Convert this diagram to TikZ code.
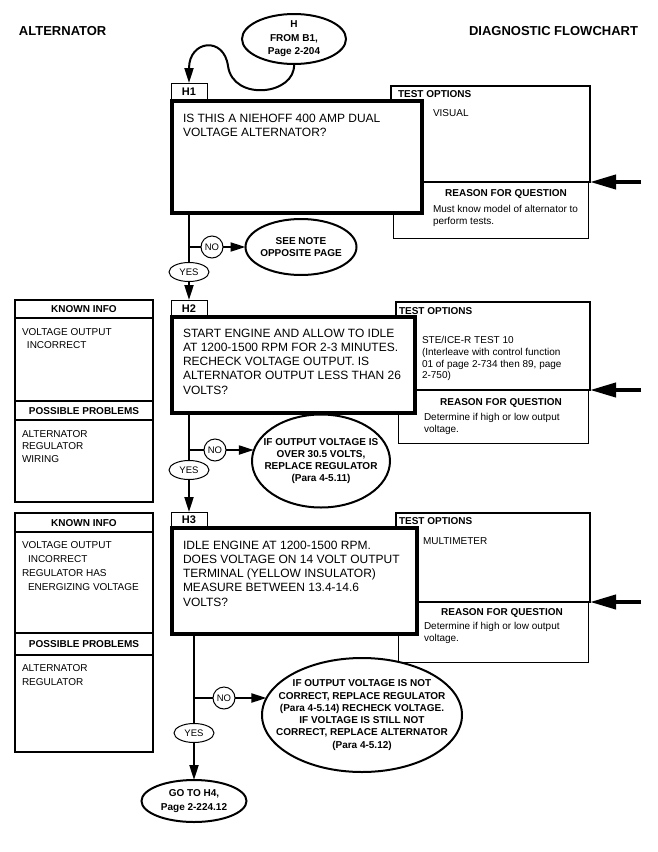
\documentclass[tikz,border=0pt]{standalone}
\usepackage{fontspec}
\setmainfont{Liberation Sans}
\usetikzlibrary{shapes.geometric,arrows.meta}
\newcommand\fsBody{\fontsize{12}{14.3}\selectfont}
\newcommand\fsSmall{\fontsize{10}{13.5}\selectfont}
\newcommand\fsTO{\fontsize{10}{11.7}\selectfont}
\newcommand\fsLab{\fontsize{10}{12}\bfseries}
\newcommand\fsOval{\fontsize{10}{12.3}\bfseries}
\newcommand\fsHead{\fontsize{13}{15}\bfseries}
\newcommand\fsTab{\fontsize{11}{13}\bfseries}
\newcommand\fsYN{\fontsize{9.5}{11}\selectfont}
\begin{document}
\begin{tikzpicture}[x=1pt,y=-1pt,
 every node/.style={inner sep=0pt,outer sep=0pt},
 bx/.style={draw,rectangle,anchor=north west},
 qb/.style={bx,line width=4pt,fill=white},
 tob/.style={bx,line width=2pt},
 rb/.style={bx,line width=1pt},
 kib/.style={bx,line width=1.2pt},
 tabb/.style={bx,line width=1pt,fill=white,font=\fsTab},
 ov/.style={ellipse,draw,line width=2pt,fill=white},
 ovt/.style={align=center,font=\fsOval},
 yesn/.style={ellipse,draw,line width=1pt,fill=white,minimum width=40pt,minimum height=19pt,font=\fsYN},
 non/.style={circle,draw,line width=1pt,fill=white,minimum size=22pt,font=\fsYN},
 tl/.style={anchor=north west,align=left},
 lab/.style={font=\fsLab},
 conn/.style={line width=2pt},
 arr/.style={line width=2pt,-{Triangle[length=15pt,width=9pt]}},
 bigarr/.style={line width=4pt,-{Triangle[length=26pt,width=14pt]}},
 kiline/.style={line width=1.4pt}
]
\useasboundingbox (0,0) rectangle (657,852);

% headers
\node[anchor=base west,font=\fsHead] (hl) at (19,35.6) {ALTERNATOR};
\node[anchor=base east,font=\fsHead] (hr) at (638,35.6) {DIAGNOSTIC FLOWCHART};

% ---------------- H1 ----------------
\node[rb,minimum width=195pt,minimum height=56pt] (r1) at (393,182) {};
\node[tob,minimum width=199pt,minimum height=96pt] (to1) at (391,86) {};
\node[tabb,minimum width=36pt,minimum height=18pt] (t1) at (171,83) {H1};
\node[qb,minimum width=250pt,minimum height=112pt] (q1) at (172,101) {};
\node[tl,font=\fsBody] (q1t) at (183,113.7) {IS THIS A NIEHOFF 400 AMP DUAL\\VOLTAGE ALTERNATOR?};
\node[anchor=base west,lab] (to1l) at (398,97.6) {TEST OPTIONS};
\node[tl,font=\fsTO] (to1c) at (433,109.4) {VISUAL};
\node[anchor=base,lab] (r1l) at (506,196.6) {REASON FOR QUESTION};
\node[tl,font=\fontsize{10}{11.5}\selectfont] (r1c) at (433,205.4) {Must know model of alternator to\\perform tests.};
\coordinate (ra1) at (641,182);
\draw[bigarr] (ra1) -- (to1.south east);

% ---------------- H2 ----------------
\node[kib,minimum width=138pt,minimum height=202pt] (ki2) at (15,300) {};
\draw[kiline] (15,318) -- (153,318);
\draw[kiline] (15,401) -- (153,401);
\draw[kiline] (15,420) -- (153,420);
\node[anchor=base,lab] (ki2h) at (84,312.6) {KNOWN INFO};
\node[anchor=base,lab] (ki2p) at (84,414.1) {POSSIBLE PROBLEMS};
\node[tl,font=\fontsize{10}{13}\selectfont] (ki2a) at (22,328.4) {VOLTAGE OUTPUT\\\hspace*{5pt}INCORRECT};
\node[tl,font=\fontsize{10}{12.5}\selectfont] (ki2b) at (22,430.4) {ALTERNATOR\\REGULATOR\\WIRING};

\node[rb,minimum width=190pt,minimum height=53pt] (r2) at (398,390) {};
\node[tob,minimum width=194pt,minimum height=88pt] (to2) at (396,302) {};
\node[tabb,minimum width=36pt,minimum height=17pt] (t2) at (171,300) {H2};
\node[qb,minimum width=243pt,minimum height=96pt] (q2) at (172,317) {};
\node[tl,font=\fsBody] (q2t) at (183,328.7) {START ENGINE AND ALLOW TO IDLE\\AT 1200-1500 RPM FOR 2-3 MINUTES.\\RECHECK VOLTAGE OUTPUT. IS\\ALTERNATOR OUTPUT LESS THAN 26\\VOLTS?};
\node[anchor=base west,lab] (to2l) at (399,314.6) {TEST OPTIONS};
\node[tl,font=\fsTO] (to2c) at (422,336.4) {STE/ICE-R TEST 10\\(Interleave with control function\\01 of page 2-734 then 89, page\\2-750)};
\node[anchor=base,lab] (r2l) at (501,405.6) {REASON FOR QUESTION};
\node[tl,font=\fontsize{10}{11.5}\selectfont] (r2c) at (424,413.4) {Determine if high or low output\\voltage.};
\coordinate (ra2) at (641,390);
\draw[bigarr] (ra2) -- (to2.south east);

% ---------------- H3 ----------------
\node[kib,minimum width=138pt,minimum height=239pt] (ki3) at (15,513) {};
\draw[kiline] (15,532) -- (153,532);
\draw[kiline] (15,633) -- (153,633);
\draw[kiline] (15,655) -- (153,655);
\node[anchor=base,lab] (ki3h) at (84,526.1) {KNOWN INFO};
\node[anchor=base,lab] (ki3p) at (84,647.6) {POSSIBLE PROBLEMS};
\node[tl,font=\fontsize{10}{14}\selectfont] (ki3a) at (22,541.4) {VOLTAGE OUTPUT\\\hspace*{6pt}INCORRECT\\REGULATOR HAS\\\hspace*{6pt}ENERGIZING VOLTAGE};
\node[tl,font=\fontsize{10}{14}\selectfont] (ki3b) at (22,664.4) {ALTERNATOR\\REGULATOR};

\node[rb,minimum width=190pt,minimum height=60pt] (r3) at (398,602) {};
\node[tob,minimum width=194pt,minimum height=89pt] (to3) at (396,513) {};
\node[tabb,minimum width=36pt,minimum height=16pt] (t3) at (171,512) {H3};
\node[qb,minimum width=245pt,minimum height=106pt] (q3) at (172,528) {};
\node[tl,font=\fsBody] (q3t) at (183,540.7) {IDLE ENGINE AT 1200-1500 RPM.\\DOES VOLTAGE ON 14 VOLT OUTPUT\\TERMINAL (YELLOW INSULATOR)\\MEASURE BETWEEN 13.4-14.6\\VOLTS?};
\node[anchor=base west,lab] (to3l) at (399,524.6) {TEST OPTIONS};
\node[tl,font=\fsTO] (to3c) at (423,537.4) {MULTIMETER};
\node[anchor=base,lab] (r3l) at (502,615.6) {REASON FOR QUESTION};
\node[tl,font=\fontsize{10}{11.5}\selectfont] (r3c) at (424,622.4) {Determine if high or low output\\voltage.};
\coordinate (ra3) at (641,602);
\draw[bigarr] (ra3) -- (to3.south east);

% ---------------- ovals ----------------
\node[ov,minimum width=104pt,minimum height=50pt] (hov) at (294,39) {};
\node[ovt,font=\fontsize{10}{13.5}\bfseries] (hovt) at (hov) {H\\FROM B1,\\Page 2-204};
\node[ov,minimum width=111pt,minimum height=56pt] (see) at (301,247) {};
\node[ovt] (seet) at (see) {SEE NOTE\\OPPOSITE PAGE};
\node[ov,minimum width=138pt,minimum height=93pt] (e2) at (321,461) {};
\node[ovt] (e2t) at (e2) {IF OUTPUT VOLTAGE IS\\OVER 30.5 VOLTS,\\REPLACE REGULATOR\\(Para 4-5.11)};
\node[ov,minimum width=200pt,minimum height=114pt] (e3) at (362,715) {};
\node[ovt] (e3t) at (e3) {IF OUTPUT VOLTAGE IS NOT\\CORRECT, REPLACE REGULATOR\\(Para 4-5.14) RECHECK VOLTAGE.\\IF VOLTAGE IS STILL NOT\\CORRECT, REPLACE ALTERNATOR\\(Para 4-5.12)};
\node[ov,minimum width=105pt,minimum height=42pt] (go) at (194,801) {};
\node[ovt,font=\fontsize{10}{14}\bfseries] (got) at (go) {GO TO H4,\\Page 2-224.12};

% ---------------- connectors ----------------
\draw[arr] (hov.south) .. controls (296,95) and (233,102) .. (228,66) .. controls (224,36) and (189,40) .. (t1.north);

\coordinate (j1) at (189,247);
\draw[arr] (q1.south -| t2.north) -- (t2.north);
\node[non] (n1) at (212,247) {NO};
\draw[conn] (j1) -- (n1.west);
\draw[arr] (n1.east) -- (see.west);
\node[yesn] (y1) at (189,272) {YES};

\coordinate (j2) at (189,450);
\draw[arr] (q2.south -| t3.north) -- (t3.north);
\node[non] (n2) at (215,450) {NO};
\draw[conn] (j2) -- (n2.west);
\draw[arr] (n2.east) -- (n2 -| e2.171);
\node[yesn] (y2) at (189,470) {YES};

\coordinate (j3) at (194,698);
\draw[arr] (q3.south -| go.north) -- (go.north);
\node[non] (n3) at (224,698) {NO};
\draw[conn] (j3) -- (n3.west);
\draw[arr] (n3.east) -- (n3 -| e3.170);
\node[yesn] (y3) at (194,733) {YES};
\end{tikzpicture}
\end{document}
